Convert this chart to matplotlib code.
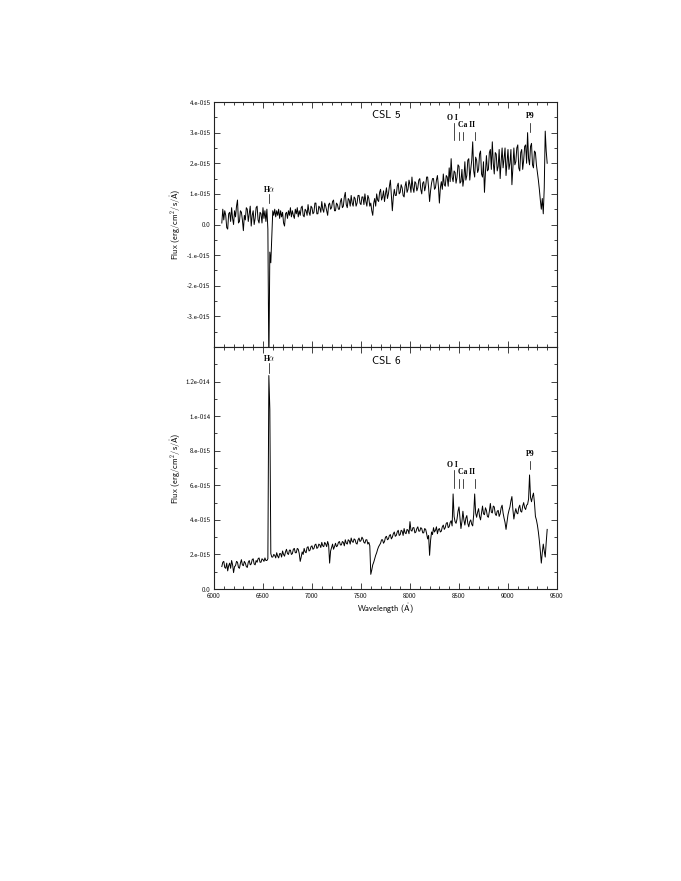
import numpy as np
import matplotlib
matplotlib.use("Agg")
import matplotlib.pyplot as plt
from matplotlib.ticker import MultipleLocator

plt.rcParams['font.family'] = ['cmss10', 'DejaVu Sans']
plt.rcParams['mathtext.fontset'] = 'cm'
plt.rcParams['axes.unicode_minus'] = False

# wavelength sampling of both spectra (Angstrom)
wl_start = 6080
wl_step = 10

# CSL 5 flux in units of 1e-15 erg/cm^2/s/A (one row = 200 A)
csl5_flux = [
    0.05, 0.50, 0.15, 0.45, 0.30, -0.10, -0.15, 0.35, 0.40, 0.10, 0.55, 0.20, 0.00, 0.45, 0.25, 0.60, 0.80, 0.05, 0.10, 0.45,    # 6080
    0.40, 0.15, -0.20, 0.30, 0.15, 0.55, 0.50, 0.10, 0.35, 0.60, -0.05, 0.30, 0.45, 0.00, 0.20, 0.55, 0.60, 0.15, 0.05, 0.40,    # 6280
    0.35, 0.05, 0.55, 0.20, 0.45, 0.10, 0.50, -0.15, -4.60, -0.90, -1.25, -0.40, 0.45, 0.30, 0.50, 0.25, 0.45, 0.30, 0.50, 0.20, # 6480
    0.45, 0.25, 0.40, 0.05, -0.05, 0.35, 0.40, 0.20, 0.45, 0.30, 0.55, 0.25, 0.45, 0.30, 0.20, 0.50, 0.35, 0.55, 0.25, 0.45,     # 6680
    0.30, 0.55, 0.60, 0.30, 0.25, 0.50, 0.45, 0.30, 0.65, 0.40, 0.30, 0.60, 0.55, 0.35, 0.40, 0.70, 0.70, 0.35, 0.35, 0.60,      # 6880
    0.55, 0.40, 0.75, 0.50, 0.40, 0.70, 0.60, 0.45, 0.30, 0.65, 0.70, 0.50, 0.55, 0.75, 0.80, 0.45, 0.45, 0.70, 0.65, 0.50,      # 7080
    0.50, 0.75, 0.85, 0.55, 0.60, 0.90, 1.05, 0.65, 0.55, 0.85, 0.80, 0.60, 0.95, 0.70, 0.60, 0.90, 0.85, 0.60, 0.70, 0.95,      # 7280
    0.95, 0.70, 0.65, 0.90, 0.90, 0.65, 1.00, 0.75, 0.60, 0.95, 0.85, 0.60, 0.70, 0.45, 0.30, 0.70, 0.85, 0.60, 1.00, 0.80,      # 7480
    0.75, 1.05, 1.15, 0.80, 0.90, 1.10, 0.75, 1.00, 1.20, 0.85, 1.00, 1.25, 1.45, 0.95, 0.45, 0.90, 1.15, 0.95, 0.95, 1.25,      # 7680
    1.35, 1.00, 1.05, 1.30, 1.20, 0.95, 0.90, 1.25, 1.40, 1.05, 1.15, 1.45, 1.30, 1.05, 1.55, 1.20, 1.05, 1.40, 1.35, 1.10,      # 7880
    1.20, 1.45, 1.50, 1.15, 1.00, 1.35, 1.40, 1.10, 1.25, 1.55, 1.55, 1.20, 0.75, 1.10, 1.35, 1.50, 1.50, 1.15, 1.20, 1.45,      # 8080
    1.60, 1.25, 0.70, 1.20, 1.40, 1.15, 1.65, 1.30, 1.25, 1.60, 1.55, 1.25, 1.85, 1.40, 2.15, 1.55, 1.40, 1.75, 1.70, 1.35,      # 8280
    1.55, 1.95, 1.90, 1.35, 1.40, 1.80, 1.25, 1.50, 2.05, 1.45, 1.60, 2.10, 2.15, 1.45, 1.80, 2.10, 2.70, 1.75, 1.55, 2.20,      # 8480
    2.10, 1.70, 1.80, 2.30, 2.40, 1.65, 1.55, 2.05, 1.05, 1.70, 2.25, 1.75, 1.80, 2.35, 2.45, 1.80, 2.70, 2.00, 1.65, 2.35,      # 8680
    2.30, 1.75, 1.90, 2.45, 1.50, 2.05, 2.50, 1.85, 2.15, 2.50, 1.60, 2.05, 2.45, 1.80, 2.00, 2.45, 1.30, 1.85, 2.50, 1.95,      # 8880
    2.05, 2.50, 2.60, 1.85, 1.75, 2.35, 2.45, 1.80, 2.10, 2.55, 2.60, 2.00, 3.00, 2.15, 1.95, 2.55, 2.65, 1.95, 1.85, 2.40,      # 9080
    2.35, 1.95, 1.70, 1.45, 1.15, 0.80, 0.50, 0.85, 0.35, 1.20, 3.05, 2.40, 2.00,                                                # 9280
]

# CSL 6 flux in units of 1e-15 erg/cm^2/s/A
csl6_flux = [
    1.30, 1.55, 1.60, 1.25, 1.20, 1.50, 1.05, 1.35, 1.50, 1.20, 1.65, 1.40, 0.95, 1.30, 1.35, 1.60, 1.55, 1.25, 1.20, 1.50,      # 6080
    1.70, 1.40, 1.35, 1.60, 1.50, 1.30, 1.25, 1.55, 1.65, 1.40, 1.45, 1.70, 1.75, 1.45, 1.40, 1.65, 1.55, 1.75, 1.80, 1.55,      # 6280
    1.55, 1.75, 1.70, 1.60, 1.80, 1.65, 1.65, 1.75, 12.35, 10.40, 2.05, 1.85, 1.85, 2.00, 1.95, 1.80, 2.10, 1.90, 1.80, 2.05,    # 6480
    2.05, 1.85, 2.20, 2.00, 1.90, 2.15, 2.30, 2.05, 2.00, 2.25, 2.25, 2.00, 2.05, 2.30, 2.35, 2.10, 2.10, 2.35, 2.30, 2.05,      # 6680
    1.60, 1.85, 2.15, 2.00, 2.35, 2.15, 2.10, 2.40, 2.45, 2.20, 2.25, 2.45, 2.50, 2.30, 2.35, 2.55, 2.60, 2.35, 2.40, 2.60,      # 6880
    2.55, 2.40, 2.70, 2.50, 2.45, 2.70, 2.60, 2.45, 2.75, 2.55, 1.50, 2.20, 2.40, 2.60, 2.30, 2.45, 2.65, 2.45, 2.50, 2.70,      # 7080
    2.75, 2.55, 2.55, 2.75, 2.70, 2.50, 2.85, 2.65, 2.60, 2.85, 2.80, 2.60, 2.95, 2.75, 2.70, 2.90, 2.85, 2.65, 2.60, 2.85,      # 7280
    2.95, 2.75, 2.80, 3.00, 2.90, 2.70, 2.65, 2.85, 2.85, 2.60, 2.70, 2.50, 0.85, 1.10, 1.40, 1.55, 1.75, 1.95, 2.10, 2.30,      # 7480
    2.45, 2.55, 2.65, 2.85, 2.85, 2.65, 2.75, 3.00, 3.05, 2.85, 2.90, 3.10, 3.15, 2.90, 3.00, 3.20, 3.30, 3.05, 3.10, 3.30,      # 7680
    3.40, 3.10, 3.15, 3.40, 3.35, 3.10, 3.50, 3.25, 3.20, 3.45, 3.40, 3.20, 3.90, 3.40, 3.35, 3.55, 3.55, 3.25, 3.30, 3.50,      # 7880
    3.60, 3.35, 3.35, 3.55, 3.50, 3.25, 3.25, 3.50, 3.45, 3.20, 2.90, 3.10, 1.95, 2.80, 3.30, 3.15, 3.55, 3.30, 3.40, 3.60,      # 8080
    3.20, 3.45, 3.50, 3.30, 3.35, 3.60, 3.70, 3.45, 3.55, 3.80, 3.85, 3.55, 3.60, 3.85, 3.95, 3.65, 5.50, 4.20, 3.90, 3.80,      # 8280
    4.05, 4.50, 4.75, 4.10, 3.50, 3.90, 4.50, 4.00, 3.70, 4.10, 4.25, 3.80, 3.60, 3.90, 4.00, 3.75, 3.65, 4.30, 5.50, 4.40,      # 8480
    4.15, 4.45, 4.65, 4.20, 4.00, 4.40, 4.80, 4.35, 4.30, 4.70, 4.55, 4.20, 4.15, 4.50, 4.95, 4.45, 4.40, 4.80, 4.75, 4.35,      # 8680
    4.25, 4.50, 4.55, 4.20, 4.35, 4.70, 4.85, 4.40, 4.10, 3.85, 3.45, 3.90, 4.30, 4.55, 4.75, 5.10, 5.35, 4.60, 4.05, 4.40,      # 8880
    4.65, 4.40, 4.35, 4.70, 4.85, 4.50, 4.45, 4.80, 5.00, 4.70, 4.60, 4.85, 4.90, 5.20, 6.60, 5.30, 5.05, 5.35, 5.55, 5.00,      # 9080
    4.20, 4.00, 3.70, 3.30, 2.80, 2.20, 1.50, 2.10, 2.60, 2.20, 1.85, 2.70, 3.45,                                                # 9280
]

# line identifications (Angstrom)
ha_wl = 6563
oi_wl = 8446
caii_wl = [8498, 8542, 8662]
p9_wl = 9229

x_ticks = [6000, 6500, 7000, 7500, 8000, 8500, 9000, 9500]
top_yticks = [-3, -2, -1, 0, 1, 2, 3, 4]
top_ylabels = ["-3.e-015", "-2.e-015", "-1.e-015", "0.0", "1.e-015", "2.e-015", "3.e-015", "4.e-015"]
bot_yticks = [0, 2, 4, 6, 8, 10, 12]
bot_ylabels = ["0.0", "2.e-015", "4.e-015", "6.e-015", "8.e-015", "1.e-014", "1.2e-014"]

wl = wl_start + wl_step * np.arange(len(csl5_flux))

fig = plt.figure(figsize=(6.81, 8.81), dpi=100)
ax1 = fig.add_axes([0.3142, 0.6061, 0.5037, 0.2781])
ax2 = fig.add_axes([0.3142, 0.3314, 0.5037, 0.2747])

angstrom = r"$\mathring{\mathsf{A}}$"
ylabel = r"Flux (erg/cm$^{\mathsf{2}}$/s/" + angstrom + ")"
idfont = dict(family='Liberation Serif', weight='bold', fontsize=5.5,
              ha='center', va='center')

for ax in (ax1, ax2):
    ax.set_xlim(6000, 9500)
    ax.set_xticks(x_ticks)
    ax.xaxis.set_minor_locator(MultipleLocator(100))
    ax.tick_params(which='both', direction='in', top=True, right=True,
                   labelsize=5, width=0.6, color='#222222', pad=2.5)
    ax.tick_params(which='major', length=4)
    ax.tick_params(which='minor', length=2)
    for sp in ax.spines.values():
        sp.set_linewidth(0.8)
        sp.set_color('#222222')
    ax.set_ylabel(ylabel, fontsize=6)
    ax.yaxis.set_label_coords(-0.112, 0.5)
    ax.yaxis.label.set_va('center')

# top panel: CSL 5
ax1.plot(wl, csl5_flux, color='black', lw=0.7)
ax1.set_ylim(-4, 4)
ax1.set_yticks(top_yticks)
ax1.set_yticklabels(top_ylabels)
ax1.yaxis.set_minor_locator(MultipleLocator(0.5))
ax1.set_xticklabels([])
ax1.text(7755, 3.58, "CSL 5", fontsize=8, ha='center', va='center')

ax1.plot([ha_wl, ha_wl], [0.70, 1.00], color='black', lw=0.5)
ax1.text(ha_wl, 1.17, r"H$\alpha$", **idfont)
ax1.plot([oi_wl, oi_wl], [2.76, 3.31], color='black', lw=0.5)
ax1.text(oi_wl - 15, 3.47, "O I", **idfont)
for w in caii_wl:
    ax1.plot([w, w], [2.76, 3.03], color='black', lw=0.5)
ax1.text(8580, 3.24, "Ca II", **idfont)
ax1.plot([p9_wl, p9_wl], [3.03, 3.31], color='black', lw=0.5)
ax1.text(p9_wl, 3.55, "P9", **idfont)

# bottom panel: CSL 6
ax2.plot(wl, csl6_flux, color='black', lw=0.7)
ax2.set_ylim(0, 14)
ax2.set_yticks(bot_yticks)
ax2.set_yticklabels(bot_ylabels)
ax2.yaxis.set_minor_locator(MultipleLocator(1))
ax2.set_xticklabels([str(t) for t in x_ticks])
ax2.set_xlabel("Wavelength (" + angstrom + ")", fontsize=6)
ax2.xaxis.set_label_coords(0.5, -0.081)
ax2.xaxis.label.set_va('center')
ax2.text(7755, 13.2, "CSL 6", fontsize=8, ha='center', va='center')

ax2.plot([ha_wl, ha_wl], [12.5, 13.05], color='black', lw=0.5)
ax2.text(ha_wl, 13.35, r"H$\alpha$", **idfont)
ax2.plot([oi_wl, oi_wl], [5.82, 6.88], color='black', lw=0.5)
ax2.text(oi_wl - 15, 7.15, "O I", **idfont)
for w in caii_wl:
    ax2.plot([w, w], [5.82, 6.34], color='black', lw=0.5)
ax2.text(8580, 6.76, "Ca II", **idfont)
ax2.plot([p9_wl, p9_wl], [6.92, 7.42], color='black', lw=0.5)
ax2.text(p9_wl, 7.84, "P9", **idfont)

fig.savefig("out.png", dpi=100)
